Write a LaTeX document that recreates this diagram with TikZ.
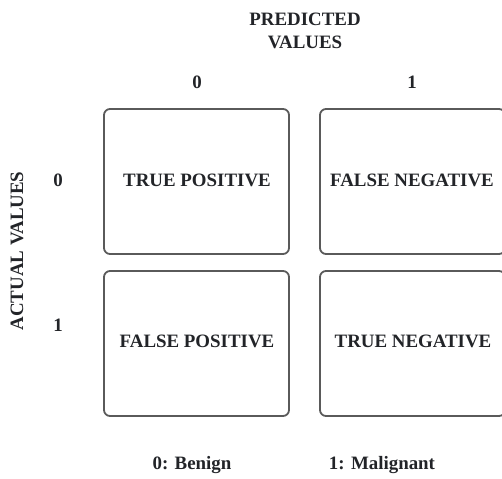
\documentclass[tikz,border=0pt]{standalone}
\usepackage{fontspec}
\setmainfont{Liberation Serif}
\definecolor{boxline}{HTML}{5A5A5A}
\definecolor{txt}{HTML}{222428}
\begin{document}
\begin{tikzpicture}[x=1pt,y=-1pt,
  cell/.style={draw=boxline,line width=1.8pt,rounded corners=6pt,minimum width=185pt,minimum height=145pt,inner sep=0pt},
  lbl/.style={text=txt,font=\fontsize{18.9}{23}\selectfont\bfseries,inner sep=0pt,align=center}]
\useasboundingbox (0,0) rectangle (502,478);
\node[cell] (tp) at (196.5,181.5) {};
\node[cell] (fn) at (412.5,181.5) {};
\node[cell] (fp) at (196.5,343.5) {};
\node[cell] (tn) at (412.5,343.5) {};
\node[lbl] (tpt) at (197,180) {TRUE POSITIVE};
\node[lbl] (fnt) at (412,180) {FALSE NEGATIVE};
\node[lbl] (fpt) at (197,341) {FALSE POSITIVE};
\node[lbl] (tnt) at (413,341) {TRUE NEGATIVE};
\node[lbl] (pred) at (305,31) {PREDICTED\\VALUES};
\node[lbl] (c0) at (197,82) {0};
\node[lbl] (c1) at (412,82) {1};
\node[lbl,rotate=90] (act) at (17,251) {ACTUAL VALUES};
\node[lbl] (r0) at (58,180) {0};
\node[lbl] (r1) at (58,325) {1};
\node[lbl] (ben) at (192,465) {0: Benign};
\node[lbl] (mal) at (382,465) {1: Malignant};
\end{tikzpicture}
\end{document}
